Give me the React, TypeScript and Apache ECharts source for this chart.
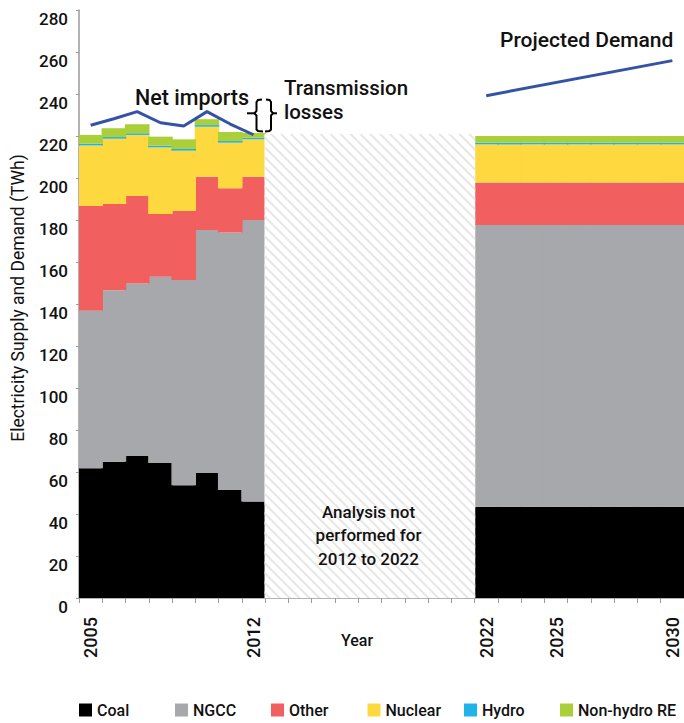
import React, { useEffect, useRef } from "react";
import * as echarts from "echarts";

const years = [
  "2005", "2006", "2007", "2008", "2009", "2010", "2011", "2012", "2013",
  "2014", "2015", "2016", "2017", "2018", "2019", "2020", "2021", "2022",
  "2023", "2024", "2025", "2026", "2027", "2028", "2029", "2030",
];
const labeledYears = ["2005", "2012", "2022", "2025", "2030"];
const yTicks = { min: 0, max: 280, interval: 20 };

const N = null;
const coal = [61.8, 64.9, 67.6, 64.3, 53.7, 59.5, 51.4, 45.9, N, N, N, N, N, N, N, N, N, 43.5, 43.5, 43.5, 43.5, 43.5, 43.5, 43.5, 43.5, 43.5];
const ngcc = [75.0, 81.6, 82.2, 88.7, 97.7, 115.7, 122.6, 134.1, N, N, N, N, N, N, N, N, N, 134.1, 134.1, 134.1, 134.1, 134.1, 134.1, 134.1, 134.1, 134.1];
const other = [49.9, 41.1, 41.6, 29.9, 32.9, 25.4, 21.1, 20.6, N, N, N, N, N, N, N, N, N, 20.3, 20.3, 20.3, 20.3, 20.3, 20.3, 20.3, 20.3, 20.3];
const nuclear = [28.8, 31.1, 29.1, 31.7, 28.7, 23.8, 21.7, 17.8, N, N, N, N, N, N, N, N, N, 18.1, 18.1, 18.1, 18.1, 18.1, 18.1, 18.1, 18.1, 18.1];
const hydro = [0.8, 0.8, 0.8, 0.8, 0.8, 0.8, 0.8, 0.8, N, N, N, N, N, N, N, N, N, 0.8, 0.8, 0.8, 0.8, 0.8, 0.8, 0.8, 0.8, 0.8];
const nonHydroRE = [4.2, 4.2, 4.3, 4.3, 4.6, 2.8, 4.3, 2.2, N, N, N, N, N, N, N, N, N, 3.2, 3.2, 3.2, 3.2, 3.2, 3.2, 3.2, 3.2, 3.2];
const notAnalysed = [N, N, N, N, N, N, N, N, 221, 221, 221, 221, 221, 221, 221, 221, 221, N, N, N, N, N, N, N, N, N];
const demandHistoric = [225.1, 228.2, 231.6, 226.3, 224.8, 231.6, 225.7, 220.6, N, N, N, N, N, N, N, N, N, N, N, N, N, N, N, N, N, N];
const demandProjected = [N, N, N, N, N, N, N, N, N, N, N, N, N, N, N, N, N, 239.2, N, N, N, N, N, N, N, 255.9];

const sourceNames = ["Coal", "NGCC", "Other", "Nuclear", "Hydro", "Non-hydro RE"];
const sourceColors = ["#000000", "#a7a8ab", "#f15f5f", "#fdd83f", "#1fb4e8", "#aacf38"];
const sourceData = [coal, ngcc, other, nuclear, hydro, nonHydroRE];

const FONT = "Roboto, 'Liberation Sans', Arial, sans-serif";

function txt(text: string, x: number, y: number, size: number, opts: any = {}) {
  const align = opts.align || "left";
  const va = opts.va || "middle";
  return {
    type: "text",
    x,
    y,
    rotation: opts.rotation || 0,
    silent: true,
    z: 100,
    style: {
      text,
      x: 0,
      y: 0,
      fill: "#111",
      font: `${opts.weight || 500} ${size}px ${FONT}`,
      align,
      textAlign: align,
      verticalAlign: va,
      textVerticalAlign: va,
      lineHeight: opts.lineHeight,
    },
  };
}

function poly(points: number[][]) {
  return {
    type: "polyline",
    silent: true,
    z: 100,
    shape: { points },
    style: { stroke: "#000", lineWidth: 2, fill: null },
  };
}

const legendLefts = [79, 175, 271, 367.5, 464, 560];
const SLOT_OVERLAP_WIDTH = 24.6;

export default function App() {
  const ref = useRef<HTMLDivElement>(null);
  useEffect(() => {
    const chart = echarts.init(ref.current!, null, { renderer: "svg" });
    const barSeries: any[] = sourceNames.map((name, i) => ({
      name,
      type: "bar",
      stack: "supply",
      barWidth: SLOT_OVERLAP_WIDTH,
      data: sourceData[i],
      itemStyle: { color: sourceColors[i] },
      emphasis: { disabled: true },
    }));
    barSeries.push({
      name: "not analysed",
      type: "bar",
      stack: "supply",
      barWidth: SLOT_OVERLAP_WIDTH,
      data: notAnalysed,
      itemStyle: {
        color: "#ffffff",
        decal: {
          symbol: "rect",
          symbolSize: 1,
          color: "#e6e6e6",
          backgroundColor: "#ffffff",
          dashArrayX: [1, 0],
          dashArrayY: [1.6, 4.4],
          rotation: Math.PI / 4,
        },
      },
      emphasis: { disabled: true },
    });
    const option: any = {
      animation: false,
      backgroundColor: "#ffffff",
      grid: { left: 79, right: 0, top: 10, bottom: 125, containLabel: false },
      legend: sourceNames.map((name, i) => ({
        data: [name],
        left: legendLefts[i],
        top: 702,
        itemWidth: 13,
        itemHeight: 13,
        icon: "rect",
        selectedMode: false,
        padding: 0,
        textStyle: { fontFamily: FONT, fontWeight: 500, fontSize: 16, color: "#111" },
      })),
      xAxis: {
        type: "category",
        data: years,
        boundaryGap: true,
        axisLine: { lineStyle: { color: "#9a9a9a", width: 1.5 } },
        axisTick: { show: true, interval: 0, length: 5, lineStyle: { color: "#9a9a9a" } },
        axisLabel: {
          interval: (_i: number, v: string) => labeledYears.includes(v),
          rotate: 90,
          margin: 19,
          fontFamily: FONT,
          fontWeight: 500,
          fontSize: 18,
          color: "#111",
        },
        splitLine: { show: false },
      },
      yAxis: {
        type: "value",
        min: yTicks.min,
        max: yTicks.max,
        interval: yTicks.interval,
        axisLine: { show: true, lineStyle: { color: "#9a9a9a", width: 1.5 } },
        axisTick: { show: true, length: 3, lineStyle: { color: "#9a9a9a" } },
        axisLabel: {
          margin: 11,
          fontFamily: FONT,
          fontWeight: 500,
          fontSize: 17,
          color: "#111",
          verticalAlign: "top",
        },
        splitLine: { show: false },
      },
      series: [
        ...barSeries,
        {
          name: "Demand",
          type: "line",
          data: demandHistoric,
          symbol: "none",
          lineStyle: { color: "#3453a5", width: 3 },
          z: 10,
        },
        {
          name: "Projected Demand",
          type: "line",
          data: demandProjected,
          connectNulls: true,
          symbol: "none",
          lineStyle: { color: "#3453a5", width: 3 },
          z: 10,
        },
      ],
      graphic: [
        txt("Electricity Supply and Demand (TWh)", 18, 298, 17.5, { align: "center", rotation: Math.PI / 2, weight: 400 }),
        txt("Net imports", 192, 97, 21.5, { align: "center" }),
        txt("Transmission", 284, 87.5, 20.5),
        txt("losses", 284, 112, 20.5),
        txt("Projected Demand", 500, 40, 21),
        txt("Analysis not\nperformed for\n2012 to 2022", 368.5, 500, 17, { align: "center", va: "top", lineHeight: 23.5 }),
        txt("Year", 357, 640, 16, { align: "center" }),
        poly([[262, 99.5], [258, 100], [256.5, 102], [256.5, 111], [254.5, 113.3], [256.5, 115.5], [256.5, 129.5], [258, 131], [263, 131.5]]),
        poly([[247, 113.3], [255, 113.3]]),
        poly([[266, 99.5], [269.5, 100], [271, 102], [271, 111], [273, 113.3], [271, 115.5], [271, 129.5], [269.5, 131], [265, 131.5]]),
        poly([[272.5, 113.3], [277, 113.3]]),
      ],
    };
    chart.setOption(option);
    return () => chart.dispose();
  }, []);
  return (
    <div
      ref={ref}
      style={{ position: "absolute", left: 0, top: 0, width: 684, height: 723 }}
    />
  );
}
